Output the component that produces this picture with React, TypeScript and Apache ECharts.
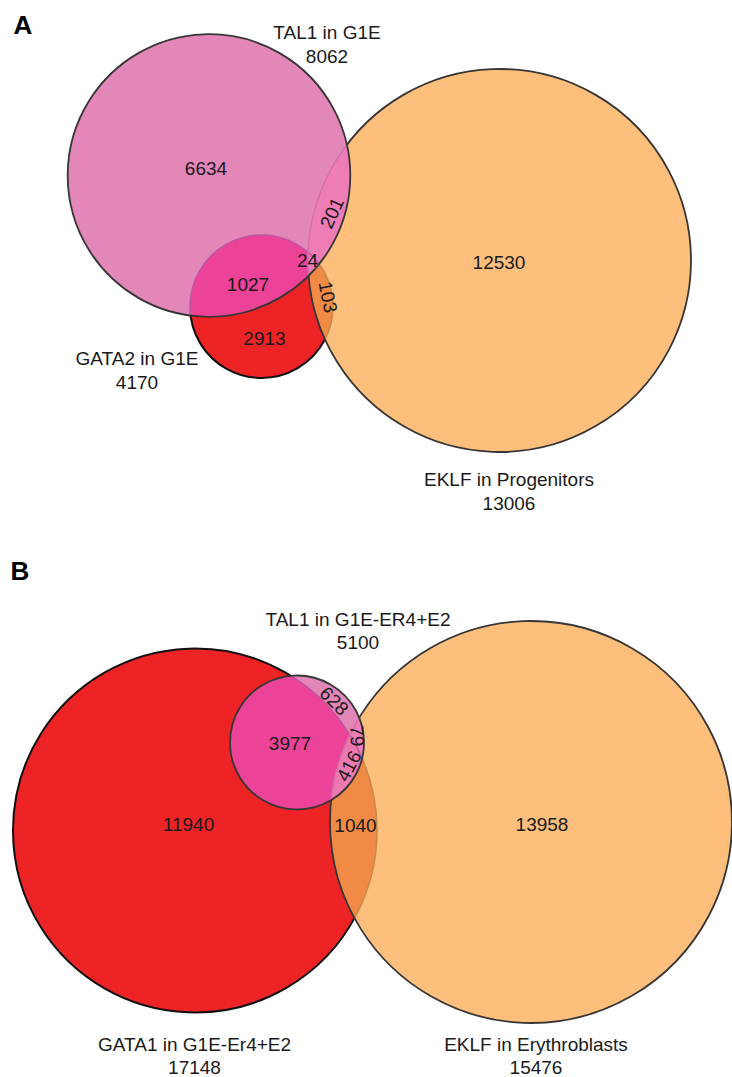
import React, { useEffect, useRef } from "react";
import * as echarts from "echarts";

// ---------- Panel A (circles listed bottom → top in drawing order) ----------
const setNamesA = ["GATA2 in G1E", "EKLF in Progenitors", "TAL1 in G1E"];
const setTotalsA = [4170, 13006, 8062];
const circleXA = [261.5, 499.5, 209];
const circleYA = [306.5, 260.5, 175.5];
const circleRA = [71.5, 191.5, 141.3];
const setLabelXA = [137, 509, 327];
const setLabelYA = [370.5, 491, 44.5];

const regionValuesA = [6634, 201, 24, 1027, 12530, 103, 2913];
const regionXA = [206, 332, 307.5, 248, 499, 328, 264.5];
const regionYA = [168, 213, 260, 284, 262, 297, 338];
const regionRotA = [0, 65, 0, 0, 0, -79, 0];

// ---------- Panel B ----------
const setNamesB = ["GATA1 in G1E-Er4+E2", "EKLF in Erythroblasts", "TAL1 in G1E-ER4+E2"];
const setTotalsB = [17148, 15476, 5100];
const circleXB = [195, 531, 297];
const circleYB = [830.5, 822, 742.5];
const circleRB = [182, 201, 67];
const setLabelXB = [194.5, 536, 358];
const setLabelYB = [1055.5, 1055.5, 630.5];

const regionValuesB = [11940, 1040, 13958, 3977, 628, 79, 416];
const regionXB = [188.5, 355.5, 542, 290, 334, 357, 349];
const regionYB = [824, 825, 824, 743, 701, 736, 766];
const regionRotB = [0, 0, 0, 0, -45, -87, 62];

const panelLetters = ["A", "B"];

// ---------- styles ----------
const FONT = '"Liberation Sans", Arial, Helvetica, sans-serif';
const COL = {
  R: "#EE2326",
  O: "#FDBF7B",
  P: "#E386B8",
  RO: "#F08A45",
  PR: "#EC4399",
  PO: "#EF7DB5",
  PRO: "#EE79B1",
  darkR: "#111111",
  dark: "#363636",
  faintRO: "#C98A4C",
  faintRP: "#BE55A3",
  faintOP: "#D471AA",
};

function vennSeries(xs: number[], ys: number[], rs: number[]) {
  return {
    type: "custom",
    coordinateSystem: "cartesian2d",
    silent: true,
    z: 2,
    data: xs.map((x, i) => [x, ys[i], rs[i]]),
    renderItem: (params: any, api: any) => {
      const idx = params.dataIndex;
      const circ = (k: number) => {
        const c = api.coord([xs[k], ys[k]]);
        const r = api.size([rs[k], 0])[0];
        return { cx: c[0], cy: c[1], r };
      };
      const c0 = circ(0);
      const c1 = circ(1);
      const c2 = circ(2);
      const clip = (s: any) => ({ type: "circle", shape: s });
      if (idx === 0) {
        return {
          type: "group",
          children: [
            { type: "circle", shape: c0, style: { fill: COL.R, stroke: COL.darkR, lineWidth: 2 } },
          ],
        };
      }
      if (idx === 1) {
        return {
          type: "group",
          children: [
            { type: "circle", shape: c1, style: { fill: COL.O } },
            { type: "circle", shape: c1, style: { fill: COL.RO }, clipPath: clip(c0) },
            {
              type: "circle",
              shape: c0,
              style: { fill: "none", stroke: COL.faintRO, lineWidth: 1.6 },
              clipPath: clip(c1),
            },
            { type: "circle", shape: c1, style: { fill: "none", stroke: COL.dark, lineWidth: 1.8 } },
          ],
        };
      }
      return {
        type: "group",
        children: [
          { type: "circle", shape: c2, style: { fill: COL.P } },
          { type: "circle", shape: c2, style: { fill: COL.PR }, clipPath: clip(c0) },
          { type: "circle", shape: c2, style: { fill: COL.PO }, clipPath: clip(c1) },
          {
            type: "group",
            clipPath: clip(c0),
            children: [
              { type: "circle", shape: c2, style: { fill: COL.PRO }, clipPath: clip(c1) },
            ],
          },
          {
            type: "circle",
            shape: c0,
            style: { fill: "none", stroke: COL.faintRP, lineWidth: 1.5 },
            clipPath: clip(c2),
          },
          {
            type: "circle",
            shape: c1,
            style: { fill: "none", stroke: COL.faintOP, lineWidth: 1.5 },
            clipPath: clip(c2),
          },
          { type: "circle", shape: c2, style: { fill: "none", stroke: COL.dark, lineWidth: 1.8 } },
        ],
      };
    },
  };
}

function textSeries(xs: number[], ys: number[], texts: string[], rots: number[], lineHeight: number) {
  return {
    type: "custom",
    coordinateSystem: "cartesian2d",
    silent: true,
    z: 5,
    data: xs.map((x, i) => [x, ys[i]]),
    renderItem: (params: any, api: any) => {
      const i = params.dataIndex;
      const p = api.coord([api.value(0), api.value(1)]);
      return {
        type: "text",
        x: p[0],
        y: p[1],
        rotation: (rots[i] * Math.PI) / 180,
        style: {
          text: texts[i],
          fill: "#1a1a1a",
          fontSize: 19,
          fontFamily: FONT,
          lineHeight,
          align: "center",
          verticalAlign: "middle",
          textAlign: "center",
          textVerticalAlign: "middle",
        },
      };
    },
  };
}

export default function App() {
  const ref = useRef<HTMLDivElement>(null);
  useEffect(() => {
    if (!ref.current) return;
    const chart = echarts.init(ref.current, undefined, { renderer: "svg" });
    const setTextsA = setNamesA.map((n, i) => `${n}\n${setTotalsA[i]}`);
    const setTextsB = setNamesB.map((n, i) => `${n}\n${setTotalsB[i]}`);
    chart.setOption({
      animation: false,
      backgroundColor: "#ffffff",
      grid: { left: 0, right: 0, top: 0, bottom: 0 },
      xAxis: { type: "value", min: 0, max: 732, show: false },
      yAxis: { type: "value", min: 0, max: 1077, inverse: true, show: false },
      graphic: panelLetters.map((t, i) => ({
        type: "text",
        x: i === 0 ? 23 : 20,
        y: i === 0 ? 25 : 571,
        z: 10,
        style: {
          text: t,
          fontSize: 26,
          fontWeight: "bold",
          fontFamily: FONT,
          fill: "#000",
          align: "center",
          verticalAlign: "middle",
          textAlign: "center",
          textVerticalAlign: "middle",
        },
      })),
      series: [
        vennSeries(circleXA, circleYA, circleRA),
        vennSeries(circleXB, circleYB, circleRB),
        textSeries(setLabelXA, setLabelYA, setTextsA, [0, 0, 0], 24),
        textSeries(setLabelXB, setLabelYB, setTextsB, [0, 0, 0], 23),
        textSeries(regionXA, regionYA, regionValuesA.map(String), regionRotA, 22),
        textSeries(regionXB, regionYB, regionValuesB.map(String), regionRotB, 22),
      ],
    });
    return () => chart.dispose();
  }, []);
  return (
    <div
      ref={ref}
      style={{ position: "fixed", left: 0, top: 0, width: 732, height: 1077, background: "#fff" }}
    />
  );
}
